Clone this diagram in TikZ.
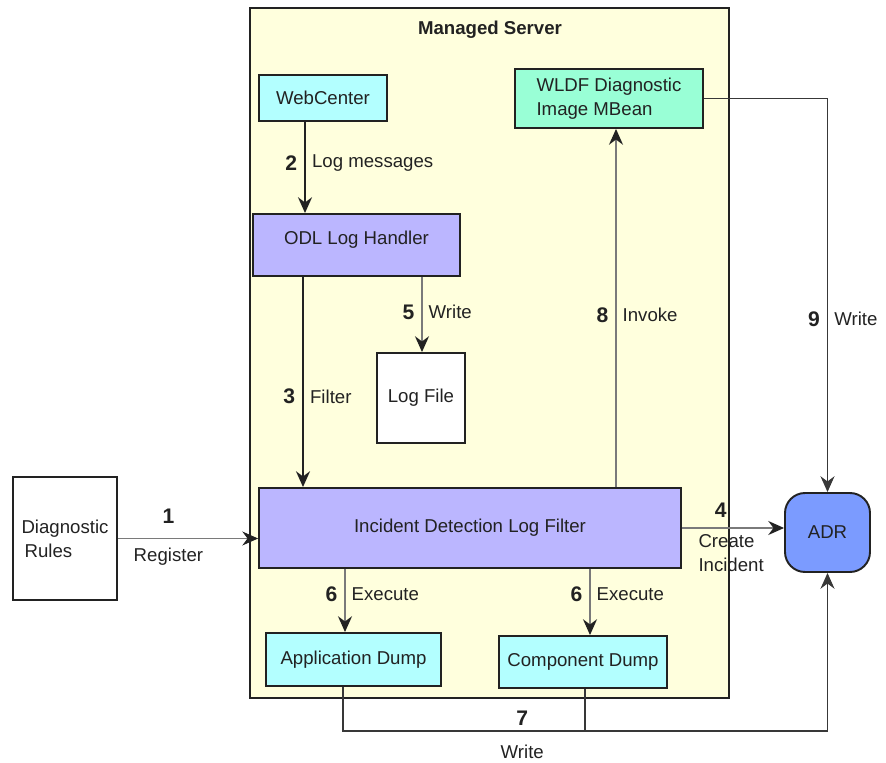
\documentclass[tikz,border=0pt]{standalone}
\usepackage{fontspec}
\setmainfont{Liberation Sans}
\usetikzlibrary{arrows.meta}
\definecolor{serverfill}{HTML}{FFFFDD}
\definecolor{dumpcyan}{HTML}{B3FFFF}
\definecolor{mbeangreen}{HTML}{99FFD6}
\definecolor{filterlav}{HTML}{BBB6FF}
\definecolor{adrblue}{HTML}{7B9BFF}
\definecolor{linegrey}{HTML}{7A7A7A}
\definecolor{inkdark}{HTML}{222222}

\begin{document}
\begin{tikzpicture}[x=0.02cm,y=-0.02cm,font=\fontsize{10.6}{13.5}\selectfont,
  unit/.style={draw=inkdark,line width=1.1pt,align=center,inner sep=0pt,text=inkdark},
  num/.style={font=\fontsize{12}{13.5}\selectfont\bfseries,text=inkdark,inner sep=4pt},
  lbl/.style={text=inkdark,inner sep=3.5pt},
  heavy/.style={-{Stealth[length=9pt,width=8pt,inset=3pt]},line width=1.1pt,inkdark},
  light/.style={-{Stealth[length=9pt,width=8pt,inset=3pt,color=inkdark]},line width=.6pt,linegrey},
  wire/.style={line width=.8pt,inkdark!90}]
  \useasboundingbox (0,0) rectangle (886,763);
  \node[unit,fill=serverfill,line width=1.4pt,minimum width=9.58cm,minimum height=13.8cm] (server) at (489.5,353) {};
  \node[font=\fontsize{10.6}{13.5}\selectfont\bfseries,text=inkdark] (title) at (490,30) {Managed Server};
  \node[unit,fill=dumpcyan,minimum width=2.56cm,minimum height=0.92cm] (web) at (323,98) {WebCenter};
  \node[unit,fill=mbeangreen,minimum width=3.76cm,minimum height=1.18cm,align=left] (wldf) at (609,98.5) {WLDF Diagnostic\\Image MBean};
  \node[unit,fill=filterlav,minimum width=4.14cm,minimum height=1.24cm] (odl) at (356.5,245) {ODL Log Handler\\[-5.5pt]};
  \node[unit,fill=white,minimum width=1.76cm,minimum height=1.8cm] (logfile) at (421,398) {Log File};
  \node[unit,fill=filterlav,minimum width=8.44cm,minimum height=1.6cm] (incident) at (470,528) {Incident Detection Log Filter};
  \node[unit,fill=white,minimum width=2.08cm,minimum height=2.46cm,align=left] (rules) at (65,538.5) {Diagnostic\\\,Rules};
  \node[unit,fill=adrblue,rounded corners=0.4cm,minimum width=1.7cm,minimum height=1.58cm] (adr) at (827.5,532.5) {ADR};
  \node[unit,fill=dumpcyan,minimum width=3.5cm,minimum height=1.06cm] (appdump) at (353.5,659.5) {Application Dump};
  \node[unit,fill=dumpcyan,minimum width=3.36cm,minimum height=1.04cm] (compdump) at (583,662) {Component Dump};
  % flow of log messages
  \draw[heavy] (web.south -| 305,0) -- node[pos=.45,num,left]{2} node[pos=.45,lbl,right]{Log messages} (odl.north -| 305,0);
  \draw[heavy] (odl.south -| 303,0) -- node[pos=.57,num,left]{3} node[pos=.57,lbl,right]{Filter} (incident.north -| 303,0);
  \draw[light] (odl.south -| 422,0) -- node[pos=.47,num,left]{5} node[pos=.47,lbl,right]{Write} (logfile.north -| 422,0);
  \draw[light] (rules.east) -- node[pos=.36,num,above=4pt]{1} node[pos=.36,lbl,below=1.5pt]{Register} (rules.east -| incident.west);
  \draw[light] (incident.east) -- node[pos=.38,num,above=1.5pt]{4} (incident.east -| adr.west);
  \node[lbl,align=left,anchor=north west] (create) at (692,528) {Create\\Incident};
  \draw[light] (incident.north -| 616,0) -- node[pos=.48,num,left]{8} node[pos=.48,lbl,right]{Invoke} (wldf.south -| 616,0);
  \draw[light] (incident.south -| 345,0) -- node[pos=.4,num,left]{6} node[pos=.4,lbl,right]{Execute} (appdump.north -| 345,0);
  \draw[light] (incident.south -| 590,0) -- node[pos=.38,num,left]{6} node[pos=.38,lbl,right]{Execute} (compdump.north -| 590,0);
  % writes to the ADR
  \draw[wire,-{Stealth[length=9pt,width=8pt,inset=3pt]}] (wldf.east) -| node[pos=.78,num,left]{9} node[pos=.78,lbl,right]{Write} (adr.north);
  \coordinate (join7) at (585,731);
  \draw[wire] (compdump.south -| join7) -- (join7);
  \draw[wire,-{Stealth[length=9pt,width=8pt,inset=3pt]}] (appdump.south -| 343,0) -- (343,731) -- node[pos=.37,num,above=-1pt]{7} node[pos=.37,lbl,below=4pt]{Write} (827.5,731) -- (adr.south);
\end{tikzpicture}
\end{document}
